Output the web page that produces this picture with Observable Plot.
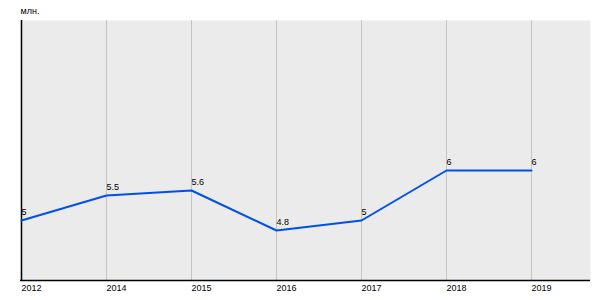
<!DOCTYPE html>
<html>
<head>
<meta charset="utf-8">
<script src="https://cdn.jsdelivr.net/npm/d3@7"></script>
<script src="https://cdn.jsdelivr.net/npm/@observablehq/plot@0.6"></script>
<style>
  html, body { margin: 0; padding: 0; background: #fff; }
  svg { font-family: "Liberation Sans", Arial, sans-serif; }
</style>
</head>
<body>
<div id="chart"></div>
<script>
const years = ["2012", "2014", "2015", "2016", "2017", "2018", "2019"];
const values = [5, 5.5, 5.6, 4.8, 5, 6, 6];
const unitLabel = "млн.";

const data = years.map((y, i) => ({year: y, value: values[i]}));

const chart = Plot.plot({
  width: 600,
  height: 300,
  marginLeft: 20,
  marginRight: 10,
  marginTop: 20,
  marginBottom: 20,
  style: {fontFamily: "'Liberation Sans', Arial, sans-serif", fontSize: "9px", color: "#000", background: "#fff"},
  x: {type: "point", domain: years, range: [20, 531], padding: 0, label: null},
  y: {domain: [3.8, 9], label: null},
  marks: [
    Plot.frame({fill: "#ebebeb", stroke: null}),
    Plot.gridX(years, {stroke: "#c4c4c4", strokeOpacity: 1, strokeWidth: 1}),
    Plot.ruleX([years[0]], {stroke: "#000", strokeWidth: 1.5}),
    Plot.ruleY([3.8], {stroke: "#000", strokeWidth: 1.5}),
    Plot.axisX({tickSize: 0, tickPadding: 4, textAnchor: "start", fontSize: 9, fill: "#000"}),
    Plot.axisY({ticks: [], label: null, tickSize: 0}),
    Plot.lineY(data, {x: "year", y: "value", stroke: "#0050e8", strokeWidth: 2}),
    Plot.text(data, {x: "year", y: "value", text: d => String(d.value), textAnchor: "start", lineAnchor: "bottom", dy: -6, fontSize: 9, fill: "#000"}),
    Plot.text([unitLabel], {frameAnchor: "top-left", text: d => d, textAnchor: "start", lineAnchor: "bottom", dy: -7, fontSize: 9, fill: "#000"})
  ]
});
document.getElementById("chart").appendChild(chart);
</script>
</body>
</html>
